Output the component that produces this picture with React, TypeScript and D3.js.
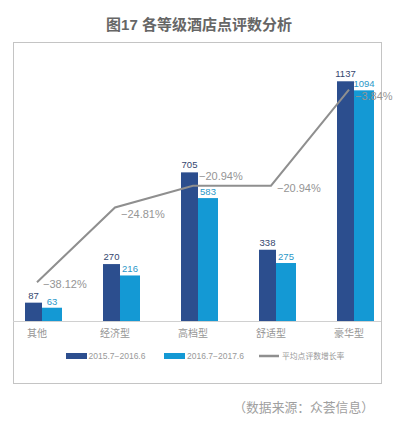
import { useRef, useEffect } from 'react';
import * as d3 from 'd3';

const categories = ['其他', '经济型', '高档型', '舒适型', '豪华型'];
const series2016 = [87, 270, 705, 338, 1137];
const series2017 = [63, 216, 583, 275, 1094];
const growthRate = [-38.12, -24.81, -20.94, -20.94, -3.84];
const legendLabels = ['2015.7−2016.6', '2016.7−2017.6', '平均点评数增长率'];

// label nudges for the growth-rate labels (px, vertical)
const rateLabelDy = [2, 7, -10, 2, 7];

const DARK = '#2c4e8e';
const LIGHT = '#1499d4';
const LINE = '#8f8f8f';
const FONT = 'Arial, "Liberation Sans", "Noto Sans CJK SC", sans-serif';

export default function App() {
  const svgRef = useRef<SVGSVGElement | null>(null);

  useEffect(() => {
    const svg = d3.select(svgRef.current);
    svg.selectAll('*').remove();

    const top = 68;
    const bottom = 321;

    const x = d3.scaleBand<string>().domain(categories).range([-2, 388]);
    const y = d3.scaleLinear().domain([0, 1200]).range([bottom, top]);
    const y2 = d3.scaleLinear().domain([-45, 0]).range([bottom, top]);
    const cx = (c: string) => (x(c) ?? 0) + x.bandwidth() / 2;

    // title
    svg.append('text')
      .attr('x', 199)
      .attr('y', 30)
      .attr('text-anchor', 'middle')
      .attr('font-family', FONT)
      .attr('font-size', 15)
      .attr('font-weight', 'bold')
      .attr('fill', '#666')
      .text('图17 各等级酒店点评数分析');

    // frame
    svg.append('rect')
      .attr('x', 13.5)
      .attr('y', 42.5)
      .attr('width', 368)
      .attr('height', 341)
      .attr('fill', 'none')
      .attr('stroke', '#c4c4c4');

    // baseline
    svg.append('line')
      .attr('x1', 13)
      .attr('x2', 381)
      .attr('y1', bottom + 0.5)
      .attr('y2', bottom + 0.5)
      .attr('stroke', '#d0d0d0');

    // bars
    const g = svg.append('g');
    g.selectAll('.b1')
      .data(categories)
      .join('rect')
      .attr('x', (c) => cx(c) - 12)
      .attr('y', (_, i) => y(series2016[i]))
      .attr('width', 17)
      .attr('height', (_, i) => bottom - y(series2016[i]))
      .attr('fill', DARK);
    g.selectAll('.b2')
      .data(categories)
      .join('rect')
      .attr('x', (c) => cx(c) + 5)
      .attr('y', (_, i) => y(series2017[i]))
      .attr('width', 20)
      .attr('height', (_, i) => bottom - y(series2017[i]))
      .attr('fill', LIGHT);

    // bar value labels
    g.selectAll('.l1')
      .data(categories)
      .join('text')
      .attr('x', (c) => cx(c) - 3.5)
      .attr('y', (_, i) => y(series2016[i]) - 4)
      .attr('text-anchor', 'middle')
      .attr('font-family', FONT)
      .attr('font-size', 9.5)
      .attr('fill', '#34466e')
      .text((_, i) => series2016[i]);
    g.selectAll('.l2')
      .data(categories)
      .join('text')
      .attr('x', (c) => cx(c) + 15)
      .attr('y', (_, i) => y(series2017[i]) - 3)
      .attr('text-anchor', 'middle')
      .attr('font-family', FONT)
      .attr('font-size', 9.5)
      .attr('fill', '#2a97c8')
      .text((_, i) => series2017[i]);

    // growth line
    const line = d3.line<number>()
      .x((_, i) => cx(categories[i]))
      .y((d) => y2(d));
    svg.append('path')
      .attr('d', line(growthRate))
      .attr('fill', 'none')
      .attr('stroke', LINE)
      .attr('stroke-width', 2);

    svg.selectAll('.rl')
      .data(growthRate)
      .join('text')
      .attr('x', (_, i) => cx(categories[i]) + 6)
      .attr('y', (d, i) => y2(d) + rateLabelDy[i])
      .attr('dy', '0.35em')
      .attr('font-family', FONT)
      .attr('font-size', 11)
      .attr('fill', '#959595')
      .text((d) => d.toFixed(2).replace('-', '−') + '%');

    // category labels
    svg.selectAll('.cl')
      .data(categories)
      .join('text')
      .attr('x', (c) => cx(c))
      .attr('y', 337)
      .attr('text-anchor', 'middle')
      .attr('font-family', FONT)
      .attr('font-size', 10)
      .attr('fill', '#969696')
      .text((c) => c);

    // legend
    const lg = svg.append('g').attr('transform', 'translate(0,356)');
    lg.append('rect').attr('x', 66).attr('y', -3).attr('width', 21).attr('height', 6).attr('fill', DARK);
    lg.append('text').attr('x', 88.5).attr('dy', '0.35em')
      .attr('font-family', FONT).attr('font-size', 8.5).attr('fill', '#999')
      .text(legendLabels[0]);
    lg.append('rect').attr('x', 164).attr('y', -3).attr('width', 21).attr('height', 6).attr('fill', LIGHT);
    lg.append('text').attr('x', 187).attr('dy', '0.35em')
      .attr('font-family', FONT).attr('font-size', 8.5).attr('fill', '#999')
      .text(legendLabels[1]);
    lg.append('line').attr('x1', 259).attr('x2', 279).attr('y1', 0).attr('y2', 0)
      .attr('stroke', LINE).attr('stroke-width', 2.5);
    lg.append('text').attr('x', 282).attr('dy', '0.35em')
      .attr('font-family', FONT).attr('font-size', 7.8).attr('fill', '#999')
      .text(legendLabels[2]);

    // source note
    svg.append('text')
      .attr('x', 374)
      .attr('y', 412)
      .attr('text-anchor', 'end')
      .attr('font-family', FONT)
      .attr('font-size', 12.8)
      .attr('fill', '#a0a0a0')
      .text('（数据来源：众荟信息）');
  }, []);

  return (
    <div style={{ position: 'absolute', left: 0, top: 0 }}>
      <svg ref={svgRef} width={399} height={426} style={{ display: 'block', background: '#fff' }} />
    </div>
  );
}
